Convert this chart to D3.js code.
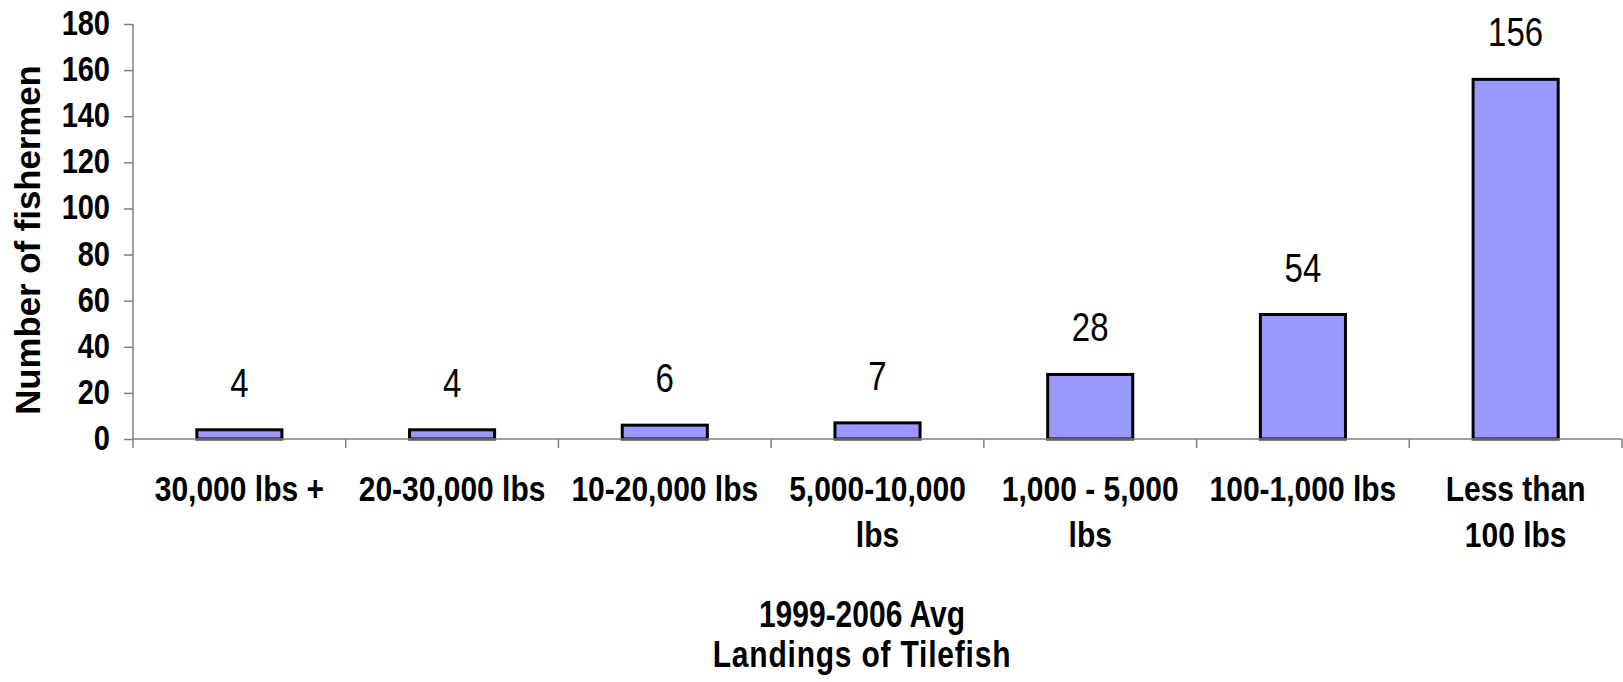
<!DOCTYPE html>
<html>
<head>
<meta charset="utf-8">
<script src="https://cdn.jsdelivr.net/npm/d3@7/dist/d3.min.js"></script>
<style>
  html, body { margin: 0; padding: 0; background: #ffffff; }
  svg { display: block; }
  text { font-family: "Liberation Sans", Arial, sans-serif; fill: #000; }
</style>
</head>
<body>
<svg id="chart" width="1623" height="682"></svg>
<script>
const categories = [
  ["30,000 lbs +"],
  ["20-30,000 lbs"],
  ["10-20,000 lbs"],
  ["5,000-10,000", "lbs"],
  ["1,000 - 5,000", "lbs"],
  ["100-1,000 lbs"],
  ["Less than", "100 lbs"]
];
const values = [4, 4, 6, 7, 28, 54, 156];
const yTicks = [0, 20, 40, 60, 80, 100, 120, 140, 160, 180];
const yTitle = "Number of fishermen";
const xTitle = ["1999-2006 Avg", "Landings of Tilefish"];

(function () {
const svg = d3.select("#chart");
const mLeft = 133, mRight = 1622, mTop = 24, mBottom = 439;
const keys = categories.map(c => c.join(" "));

const x = d3.scaleBand().domain(keys).range([mLeft, mRight]).padding(0);
const y = d3.scaleLinear().domain([0, 180]).range([mBottom, mTop]);
const barW = x.bandwidth() * 0.4;

// bars
svg.append("g").selectAll("rect")
  .data(values)
  .join("rect")
  .attr("x", (d, i) => x(keys[i]) + x.bandwidth() / 2 - barW / 2)
  .attr("y", d => y(d))
  .attr("width", barW)
  .attr("height", d => y(0) - y(d))
  .attr("fill", "#9999ff")
  .attr("stroke", "#000")
  .attr("stroke-width", 3);

// y axis
const yAxis = svg.append("g")
  .attr("transform", `translate(${mLeft},0)`)
  .call(d3.axisLeft(y).tickValues(yTicks).tickSize(9).tickFormat(""));
yAxis.selectAll("path, line").attr("stroke", "#808080").attr("stroke-width", 1.5);
yAxis.select(".domain").attr("d", `M0,${mTop}V${mBottom}`);

// y tick labels (vertically stretched)
svg.append("g").selectAll("g")
  .data(yTicks)
  .join("g")
  .attr("transform", d => `translate(110,${y(d) + 11}) scale(1,1.2)`)
  .append("text")
  .attr("text-anchor", "end")
  .attr("font-weight", "bold")
  .attr("font-size", 29)
  .text(d => d);

// x axis
const xAxis = svg.append("g")
  .attr("transform", `translate(0,${mBottom})`);
xAxis.append("line")
  .attr("x1", mLeft).attr("x2", mRight)
  .attr("y1", 0).attr("y2", 0)
  .attr("stroke", "#808080").attr("stroke-width", 1.5);
const boundaries = keys.map(k => x(k)).concat([x(keys[keys.length - 1]) + x.bandwidth()]);
xAxis.selectAll("line.tk")
  .data(boundaries)
  .join("line")
  .attr("class", "tk")
  .attr("x1", d => d).attr("x2", d => d)
  .attr("y1", 0).attr("y2", 9)
  .attr("stroke", "#808080").attr("stroke-width", 1.5);

// category labels
const catG = svg.append("g").selectAll("g")
  .data(categories)
  .join("g");
catG.each(function(lines, i) {
  const g = d3.select(this);
  lines.forEach((ln, j) => {
    g.append("g")
      .attr("transform", `translate(${x(keys[i]) + x.bandwidth() / 2},${501 + j * 46}) scale(1,1.18)`)
      .append("text")
      .attr("text-anchor", "middle")
      .attr("font-weight", "bold")
      .attr("font-size", 30)
      .text(ln);
  });
});

// value labels
svg.append("g").selectAll("g")
  .data(values)
  .join("g")
  .attr("transform", (d, i) => `translate(${x(keys[i]) + x.bandwidth() / 2},${y(d) - 33}) scale(1,1.25)`)
  .append("text")
  .attr("text-anchor", "middle")
  .attr("font-size", 33)
  .text(d => d);

// y title
svg.append("text")
  .attr("transform", `translate(40,240) rotate(-90) scale(0.98,1)`)
  .attr("text-anchor", "middle")
  .attr("font-weight", "bold")
  .attr("font-size", 35.5)
  .text(yTitle);

// x title
xTitle.forEach((t, j) => {
  svg.append("g")
    .attr("transform", `translate(862,${627 + j * 40}) scale(1,1.2)`)
    .append("text")
    .attr("text-anchor", "middle")
    .attr("font-weight", "bold")
    .attr("font-size", 30)
    .attr("letter-spacing", j === 1 ? 0.8 : 0)
    .text(t);
});
})();
</script>
</body>
</html>
